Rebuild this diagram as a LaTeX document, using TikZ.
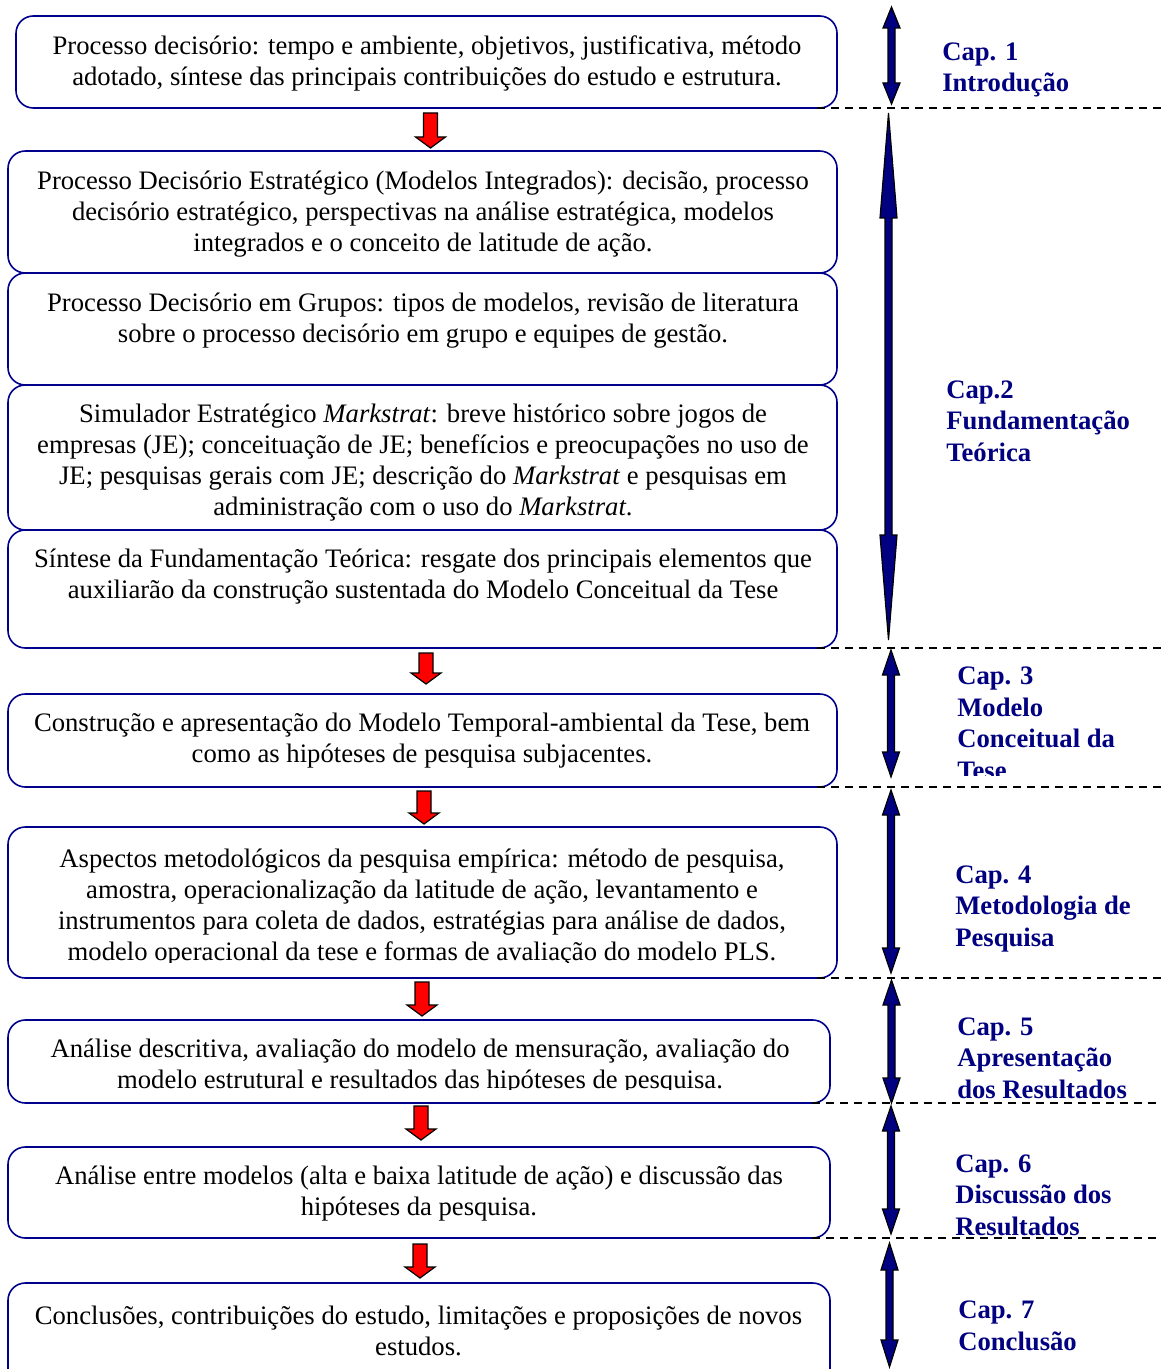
\documentclass[tikz,border=0pt]{standalone}
\usepackage{fontspec}
\setmainfont{Liberation Serif}
\usetikzlibrary{fit}
\definecolor{boxline}{RGB}{0,0,140}
\definecolor{capblue}{RGB}{0,0,128}
\definecolor{arrowred}{RGB}{255,0,0}

% red block arrow pointing down: centre x, top y, tip y
\newcommand\downblock[3]{%
  \draw[redblock] ({#1-7},#2) -- ({#1+7},#2) -- ({#1+7},{#3-11}) -- ({#1+15},{#3-11})
    -- (#1,#3) -- ({#1-15},{#3-11}) -- ({#1-7},{#3-11}) -- cycle;}
% navy two-headed span arrow: centre x, top tip, bottom tip, head length
\newcommand\spanarrow[4]{%
  \draw[blueblock] (#1,#2) -- ({#1+8.5},{#2+#4}) -- ({#1+3.5},{#2+#4}) -- ({#1+3.5},{#3-#4})
    -- ({#1+8.5},{#3-#4}) -- (#1,#3) -- ({#1-8.5},{#3-#4}) -- ({#1-3.5},{#3-#4})
    -- ({#1-3.5},{#2+#4}) -- ({#1-8.5},{#2+#4}) -- cycle;}

\begin{document}
\begin{tikzpicture}[x=0.75pt,y=-0.75pt,
  stagebox/.style={draw=boxline, line width=1.2pt, rounded corners=13pt, inner sep=0pt, fit={#1}},
  stagetext/.style={font=\fontsize{20}{23.25}\selectfont, align=center, inner sep=0pt},
  caplabel/.style={font=\fontsize{20}{23.6}\selectfont\bfseries, text=capblue, align=left,
    anchor=base west, inner sep=0pt},
  chapterline/.style={dash pattern=on 6pt off 4.5pt, line width=1pt},
  redblock/.style={fill=arrowred, draw=black, line width=0.9pt},
  blueblock/.style={fill=capblue, draw=black, line width=0.9pt}]

\useasboundingbox (0,0) rectangle (1161,1369);
\clip (0,0) rectangle (1161,1369);
\fill[white] (0,0) rectangle (1161,1369);

% stage boxes
\node[stagebox={(16,16) (837,108)}] (b1) {};
\node[stagebox={(8,151) (837,273)}] (b2) {};
\node[stagebox={(8,273) (837,385)}] (b3) {};
\node[stagebox={(8,385) (837,530)}] (b4) {};
\node[stagebox={(8,530) (837,648)}] (b5) {};
\node[stagebox={(8,694) (837,787)}] (b6) {};
\node[stagebox={(8,827) (837,978)}] (b7) {};
\node[stagebox={(8,1020) (830,1103)}] (b8) {};
\node[stagebox={(8,1147) (830,1238)}] (b9) {};
\node[stagebox={(8,1283) (830,1400)}] (b10) {};

% chapter separators
\coordinate (s1) at (817,108);  \coordinate (e1) at (1161,108);
\coordinate (s2) at (817,648);  \coordinate (e2) at (1161,648);
\coordinate (s3) at (817,787);  \coordinate (e3) at (1161,787);
\coordinate (s4) at (817,978);  \coordinate (e4) at (1161,978);
\coordinate (s5) at (812,1103); \coordinate (e5) at (1161,1103);
\coordinate (s6) at (812,1238); \coordinate (e6) at (1161,1238);
\foreach \i in {1,...,6} \draw[chapterline] (s\i) -- (e\i);

% flow arrows between stages
\downblock{430.5}{113}{148}
\downblock{426}{653}{684}
\downblock{424}{791}{824}
\downblock{422}{982}{1016}
\downblock{421}{1106}{1140}
\downblock{420}{1244}{1278}

% chapter span arrows
\spanarrow{891.5}{7}{104}{21}
\spanarrow{888.5}{113}{640}{105}
\spanarrow{891}{650}{777}{25}
\spanarrow{891}{790}{973}{25}
\spanarrow{891.5}{980}{1103}{25}
\spanarrow{891}{1106}{1234}{25}
\spanarrow{889.5}{1243}{1367}{27}

% stage texts
\node[stagetext] (t1) at (427,63) {Processo decisório: tempo e ambiente, objetivos, justificativa, método\\adotado, síntese das principais contribuições do estudo e estrutura.};
\node[stagetext] (t2) at (423,214) {Processo Decisório Estratégico (Modelos Integrados): decisão, processo\\decisório estratégico, perspectivas na análise estratégica, modelos\\integrados e o conceito de latitude de ação.};
\node[stagetext] (t3) at (423,321) {Processo Decisório em Grupos: tipos de modelos, revisão de literatura\\sobre o processo decisório em grupo e equipes de gestão.};
\node[stagetext] (t4) at (423,463) {Simulador Estratégico \textit{Markstrat}: breve histórico sobre jogos de\\empresas (JE); conceituação de JE; benefícios e preocupações no uso de\\JE; pesquisas gerais com JE; descrição do \textit{Markstrat} e pesquisas em\\administração com o uso do \textit{Markstrat}.};
\node[stagetext] (t5) at (423,577) {Síntese da Fundamentação Teórica: resgate dos principais elementos que\\auxiliarão da construção sustentada do Modelo Conceitual da Tese};
\node[stagetext] (t6) at (422,741) {Construção e apresentação do Modelo Temporal-ambiental da Tese, bem\\como as hipóteses de pesquisa subjacentes.};
\begin{scope}
  \clip (0,820) rectangle (1161,962);
  \node[stagetext] (t7) at (422,908) {Aspectos metodológicos da pesquisa empírica: método de pesquisa,\\amostra, operacionalização da latitude de ação, levantamento e\\instrumentos para coleta de dados, estratégias para análise de dados,\\modelo operacional da tese e formas de avaliação do modelo PLS.};
\end{scope}
\begin{scope}
  \clip (0,1020) rectangle (1161,1089);
  \node[stagetext] (t8) at (420,1067) {Análise descritiva, avaliação do modelo de mensuração, avaliação do\\modelo estrutural e resultados das hipóteses de pesquisa.};
\end{scope}
\node[stagetext] (t9) at (419,1194) {Análise entre modelos (alta e baixa latitude de ação) e discussão das\\hipóteses da pesquisa.};
\node[stagetext] (t10) at (418.5,1331) {Conclusões, contribuições do estudo, limitações e proposições de novos\\estudos.};

% chapter labels (anchored at the baseline of their last line)
\node[caplabel] (c1) at (942,92) {Cap. 1\\Introdução};
\node[caplabel] (c2) at (946,461) {Cap.2\\Fundamentação\\Teórica};
\begin{scope}
  \clip (940,650) rectangle (1161,775);
  \node[caplabel] (c3) at (957,779) {Cap. 3\\Modelo\\Conceitual da\\Tese};
\end{scope}
\node[caplabel] (c4) at (955,946) {Cap. 4\\Metodologia de\\Pesquisa};
\node[caplabel] (c5) at (957,1098) {Cap. 5\\Apresentação\\dos Resultados};
\node[caplabel] (c6) at (955,1235) {Cap. 6\\Discussão dos\\Resultados};
\node[caplabel] (c7) at (958,1350) {Cap. 7\\Conclusão};
\end{tikzpicture}
\end{document}
